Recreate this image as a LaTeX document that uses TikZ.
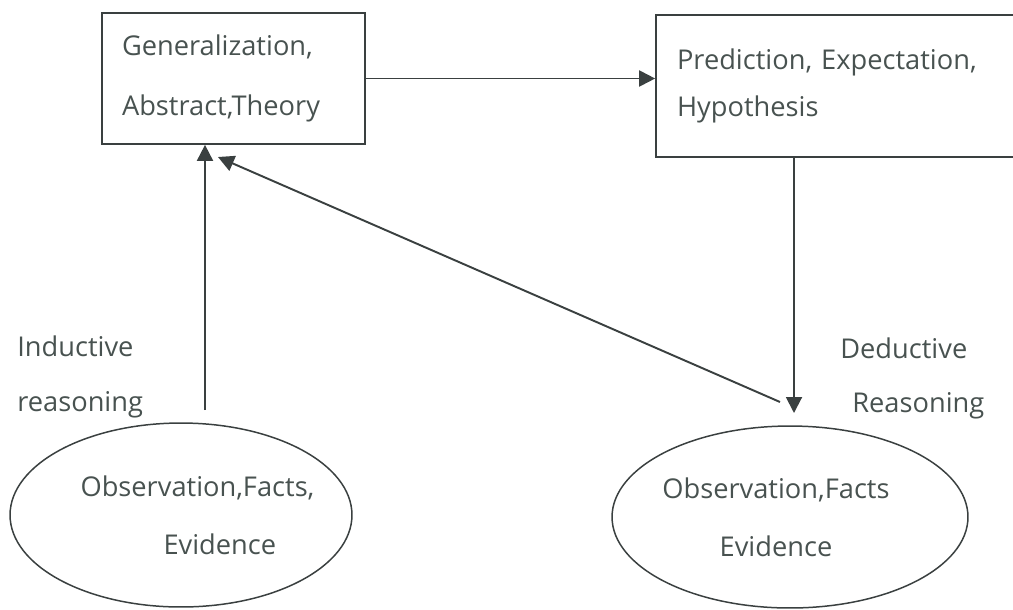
\documentclass[tikz,border=0pt]{standalone}
\usepackage{fontspec}
\setmainfont{Open Sans}
\usetikzlibrary{positioning, shapes.geometric, arrows.meta}
\definecolor{ink}{RGB}{72,82,80}
\definecolor{edge}{RGB}{58,64,64}

\begin{document}
\begin{tikzpicture}[
    x=0.02cm, y=-0.02cm,
    box/.style={rectangle, draw=edge, line width=1pt, text=ink, align=left, inner xsep=0.4cm},
    obs/.style={ellipse, draw=edge, line width=0.85pt},
    txt/.style={text=ink, font=\fontsize{15.5}{33}\selectfont},
    lbl/.style={text=ink, inner sep=0pt, anchor=base west, font=\fontsize{15.5}{18}\selectfont},
    arr/.style={-{Triangle[length=3.2mm, width=3.2mm]}, draw=edge, line width=1.1pt},
]
    \useasboundingbox (0,0) rectangle (1013,609);
    \clip (0,0) rectangle (1013,609);

    % Nodes
    \node[box, minimum width=5.26cm, minimum height=2.62cm, text width=4.46cm,
          font=\fontsize{15.5}{34}\selectfont] (gen) at (233.5,78.5) {Generalization,\\Abstract,Theory};
    \node[box, minimum width=7.48cm, minimum height=2.84cm, text width=6.64cm,
          font=\fontsize{15.5}{27}\selectfont] (pred) at (843,86) {Prediction, Expectation,\\Hypothesis};
    \node[obs, minimum width=6.84cm, minimum height=3.68cm,
          label={[txt, align=left, xshift=0.33cm]center:Observation,Facts,\\\hspace*{1.66cm}Evidence}] (obsA) at (181,515) {};
    \node[obs, minimum width=7.12cm, minimum height=3.64cm,
          label={[txt, align=center, xshift=-0.28cm]center:Observation,Facts\\Evidence}] (obsB) at (790,517) {};

    \node[lbl] (ind1) at (17,356) {Inductive};
    \node[lbl] (ind2) at (17,411) {reasoning};
    \node[lbl] (ded1) at (840,358) {Deductive};
    \node[lbl] (ded2) at (852,412) {Reasoning};

    \coordinate (indStart) at (205,410);
    \coordinate (diagStart) at (780,402);
    \coordinate (diagEnd) at (218,157);
    \coordinate (dedEnd) at (794,413);

    % Lines
    \draw[arr] (gen.east) -- (gen.east -| pred.west);
    \draw[arr] (indStart) -- (indStart |- gen.south);
    \draw[arr] (diagStart) -- (diagEnd);
    \draw[arr] (dedEnd |- pred.south) -- (dedEnd);
\end{tikzpicture}
\end{document}
